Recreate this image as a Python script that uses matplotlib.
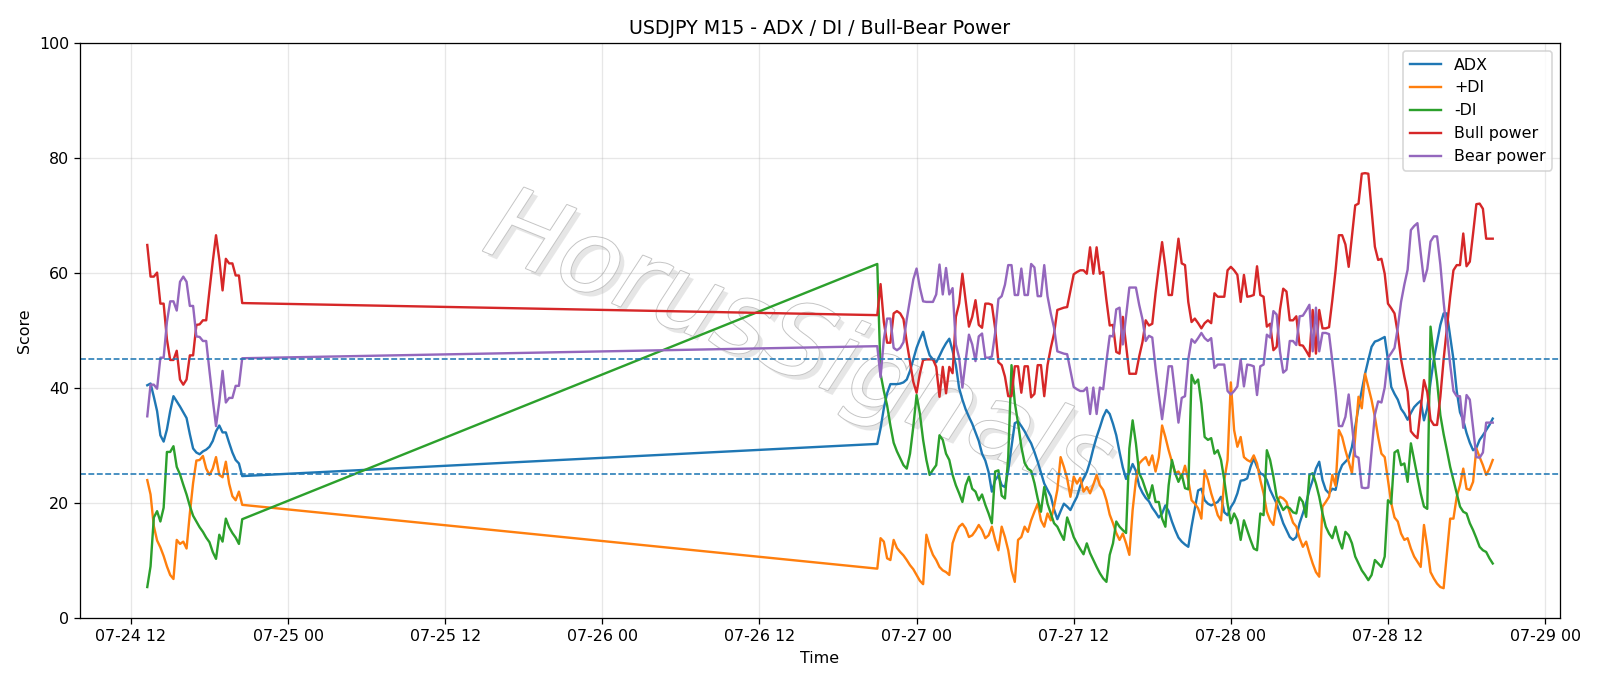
import matplotlib
matplotlib.use("Agg")
import matplotlib.pyplot as plt
import matplotlib.dates as mdates
import matplotlib.patheffects as pe
import numpy as np
import pandas as pd

# session 1: Fri 07-24 13:15 .. 20:30 (M15)
adx1 = [40.5, 40.8, 38.5, 36.0, 31.8, 30.7, 32.8, 36.0, 38.6, 37.7, 36.8, 35.8, 34.8, 32.0, 29.5,
        28.8, 28.5, 29.0, 29.3, 29.8, 30.8, 32.5, 33.5, 32.3, 32.3, 30.5, 28.8, 27.5, 26.9, 24.7]
pdi1 = [24.0, 21.5, 16.0, 13.5, 12.3, 10.8, 9.0, 7.5, 6.8, 13.6, 12.9, 13.3, 12.1, 18.2, 23.5,
        27.4, 27.5, 28.2, 26.0, 24.9, 26.0, 28.0, 24.9, 24.5, 27.2, 23.4, 21.2, 20.5, 22.0, 19.7]
mdi1 = [5.4, 9.0, 17.5, 18.6, 16.8, 19.2, 28.9, 28.9, 29.9, 26.3, 25.0, 23.2, 21.5, 19.5, 17.8,
        16.8, 15.8, 15.0, 14.0, 13.2, 11.5, 10.3, 14.5, 13.3, 17.3, 15.8, 14.8, 14.0, 12.9, 17.2]
bull1 = [64.9, 59.4, 59.4, 60.1, 54.7, 54.7, 48.5, 44.9, 44.9, 46.5, 41.5, 40.6, 41.5, 45.7, 45.7,
         51.0, 51.1, 51.8, 51.8, 57.0, 62.0, 66.6, 62.4, 57.0, 62.5, 61.7, 61.7, 59.6, 59.6, 54.8]
bear1 = [35.1, 40.6, 40.6, 39.9, 45.3, 45.3, 51.5, 55.1, 55.1, 53.5, 58.5, 59.4, 58.5, 54.3, 54.3,
         49.0, 48.9, 48.2, 48.2, 43.0, 38.0, 33.4, 37.6, 43.0, 37.5, 38.3, 38.3, 40.4, 40.4, 45.2]

# session 2: Sun 07-26 21:00 .. Tue 07-28 20:00 (M15)
adx2 = [30.3, 33.0, 36.5, 39.1, 40.7, 40.7, 40.7, 40.8, 41.0, 41.5, 43.0, 45.0, 47.0, 48.5, 49.8, 47.5,
        45.7, 45.0, 44.5, 45.6, 46.8, 47.8, 48.6, 46.5, 44.0, 40.0, 38.0, 36.3, 35.0, 33.8, 32.3, 30.8,
        28.6, 27.4, 25.4, 22.0, 24.0, 24.8, 23.1, 22.8, 25.7, 29.8, 33.9, 34.2, 33.4, 32.5, 31.4, 30.4,
        28.9, 27.2, 25.3, 23.4, 22.3, 21.2, 18.9, 17.2, 18.6, 19.9, 19.4, 18.8, 20.0, 21.1, 23.0, 24.3,
        25.4, 27.2, 29.5, 31.5, 33.2, 35.0, 36.2, 35.5, 33.8, 31.8, 28.9, 26.2, 24.2, 25.3, 26.8, 25.6,
        23.0, 21.8, 20.9, 20.3, 19.2, 18.4, 17.5, 18.2, 19.6, 18.6, 16.8, 15.3, 14.0, 13.3, 12.8, 12.4,
        15.9, 19.1, 22.2, 22.5, 20.5, 19.9, 19.6, 19.9, 20.2, 21.1, 18.4, 17.9, 19.3, 20.2, 21.7, 23.9,
        24.0, 24.3, 26.3, 27.8, 26.3, 25.2, 24.9, 24.0, 22.3, 21.1, 19.9, 18.2, 16.5, 15.3, 14.1, 13.6,
        14.1, 16.5, 18.2, 20.0, 22.3, 24.0, 26.0, 27.2, 24.0, 22.3, 21.7, 22.5, 22.3, 25.2, 26.6, 27.2,
        27.8, 29.8, 33.3, 36.7, 39.6, 42.5, 44.9, 47.2, 48.1, 48.3, 48.6, 48.9, 44.9, 40.2, 39.0, 38.0,
        36.4, 35.6, 34.5, 35.7, 36.7, 37.3, 37.8, 34.4, 36.5, 41.0, 45.0, 48.0, 51.0, 53.0, 53.0, 49.0,
        45.0, 39.5, 35.8, 34.4, 32.2, 30.5, 29.2, 29.6, 31.0, 31.8, 32.7, 33.6, 34.7]
pdi2 = [8.6, 13.9, 13.3, 10.4, 10.1, 13.6, 12.2, 11.5, 10.9, 10.1, 9.2, 8.5, 7.5, 6.5, 5.9, 14.5,
        12.5, 11.0, 10.1, 8.9, 8.3, 8.0, 7.5, 13.0, 14.7, 15.9, 16.4, 15.6, 14.1, 14.4, 15.2, 16.2,
        15.3, 13.9, 14.4, 15.9, 13.6, 11.8, 15.9, 14.1, 11.8, 8.3, 6.3, 13.6, 14.1, 15.9, 15.0, 17.0,
        18.5, 19.9, 17.0, 15.9, 18.2, 17.0, 19.4, 22.3, 28.0, 26.3, 24.3, 21.1, 24.6, 23.4, 24.4, 22.0,
        22.8, 21.7, 23.2, 24.9, 23.1, 22.3, 20.5, 18.0, 16.5, 14.8, 13.6, 14.7, 13.0, 11.0, 18.8, 24.0,
        26.9, 27.5, 28.0, 26.6, 28.3, 25.5, 28.0, 33.5, 31.5, 29.2, 27.2, 25.2, 25.5, 24.5, 26.5, 24.0,
        20.5, 19.9, 19.1, 17.3, 25.7, 24.0, 21.7, 19.9, 17.9, 17.0, 24.0, 27.5, 41.0, 32.7, 29.8, 31.5,
        28.0, 27.5, 27.2, 28.3, 26.9, 24.0, 21.7, 18.5, 17.0, 16.2, 20.2, 21.1, 20.8, 20.2, 18.3, 16.6,
        15.9, 13.9, 12.4, 13.3, 11.3, 9.5, 8.0, 7.2, 19.4, 20.2, 21.1, 24.9, 23.0, 32.7, 31.5, 29.2,
        27.2, 25.2, 31.5, 38.5, 36.5, 42.5, 40.2, 37.9, 35.0, 31.5, 28.6, 28.0, 24.0, 20.0, 17.5, 16.8,
        14.7, 13.6, 13.9, 12.1, 10.7, 9.8, 8.9, 16.2, 12.4, 8.0, 6.9, 6.0, 5.4, 5.2, 11.3, 17.3,
        17.3, 21.1, 23.1, 26.0, 22.5, 22.3, 23.7, 29.5, 28.0, 26.6, 24.9, 26.0, 27.5]
mdi2 = [61.6, 42.5, 39.5, 37.0, 33.5, 30.5, 29.0, 27.8, 26.6, 26.0, 28.6, 33.3, 38.8, 35.6, 31.0, 27.5,
        24.9, 25.8, 26.6, 31.8, 31.0, 28.6, 27.5, 24.9, 23.1, 21.7, 20.2, 23.1, 24.6, 22.5, 22.0, 20.5,
        21.5, 19.7, 18.2, 16.5, 25.5, 25.7, 21.3, 20.8, 28.0, 44.0, 37.5, 33.9, 29.8, 27.0, 26.0, 25.6,
        23.5, 20.8, 18.5, 22.8, 19.9, 18.2, 16.5, 15.9, 14.7, 13.6, 17.5, 15.9, 14.1, 13.0, 12.0, 11.1,
        13.0, 11.3, 10.1, 8.9, 7.8, 6.9, 6.3, 11.0, 13.0, 16.8, 15.9, 15.3, 14.8, 29.5, 34.4, 30.4,
        25.2, 24.0, 22.3, 20.8, 23.1, 20.2, 20.2, 17.3, 15.9, 23.1, 27.5, 25.2, 23.7, 25.0, 22.6, 22.4,
        42.3, 40.8, 41.5, 37.3, 31.5, 31.0, 31.3, 28.6, 29.2, 27.5, 24.0, 19.9, 16.5, 18.2, 17.0, 13.6,
        17.0, 15.3, 13.6, 12.1, 11.8, 18.2, 17.9, 29.2, 27.5, 24.6, 21.1, 19.9, 18.8, 19.4, 19.1, 18.4,
        18.2, 21.0, 20.2, 17.6, 24.9, 25.2, 23.4, 21.1, 18.2, 15.9, 14.7, 13.9, 15.9, 13.6, 12.1, 15.0,
        14.4, 13.0, 10.7, 9.5, 8.3, 7.5, 6.6, 7.5, 10.1, 9.5, 8.9, 10.7, 20.5, 19.9, 28.8, 29.2,
        26.6, 26.9, 23.7, 30.4, 27.5, 24.6, 21.7, 19.4, 19.0, 50.7, 45.5, 41.2, 35.3, 32.0, 29.2, 26.3,
        24.0, 21.7, 19.4, 18.5, 18.2, 16.5, 15.3, 13.9, 12.4, 11.8, 11.5, 10.4, 9.5]
bull2 = [52.7, 58.1, 51.5, 47.9, 47.9, 53.0, 53.4, 53.0, 52.0, 48.0, 44.5, 41.1, 39.2, 42.5, 44.9, 45.0,
         45.0, 45.0, 43.7, 38.5, 43.7, 39.1, 43.7, 42.6, 52.4, 54.7, 59.9, 55.2, 50.7, 52.4, 55.3, 51.0,
         50.5, 54.7, 54.7, 54.5, 50.4, 44.5, 44.0, 42.0, 38.6, 38.6, 43.8, 43.8, 39.2, 43.8, 43.8, 38.4,
         39.0, 44.0, 44.0, 38.6, 44.0, 47.0, 49.5, 53.6, 53.8, 54.0, 54.1, 57.0, 59.8, 60.2, 60.5, 60.5,
         59.9, 64.5, 59.9, 64.5, 59.9, 60.2, 55.3, 50.9, 51.0, 46.3, 46.0, 52.4, 47.5, 42.5, 42.5, 42.5,
         45.5, 48.0, 51.8, 50.9, 51.2, 56.5, 61.1, 65.4, 61.1, 56.2, 56.2, 61.1, 66.0, 61.7, 61.4, 55.0,
         51.5, 52.1, 51.3, 50.4, 51.3, 51.8, 51.3, 56.5, 55.9, 55.9, 55.9, 60.5, 61.1, 60.5, 59.7, 55.0,
         59.7, 55.9, 56.0, 56.2, 61.2, 56.2, 55.9, 50.7, 51.2, 46.6, 47.2, 53.6, 57.3, 56.8, 51.8, 51.8,
         52.5, 47.5, 47.4, 46.5, 45.5, 53.6, 46.0, 53.6, 50.4, 50.4, 50.6, 55.3, 60.5, 66.6, 66.6, 65.0,
         61.1, 66.5, 71.8, 72.1, 77.3, 77.4, 77.3, 71.0, 64.6, 62.3, 62.5, 59.9, 54.7, 53.9, 53.0, 49.5,
         45.0, 42.0, 39.4, 32.5, 31.8, 31.3, 36.5, 41.4, 39.3, 34.5, 33.6, 33.6, 38.5, 45.0, 50.5, 55.9,
         60.5, 61.4, 61.4, 66.9, 61.2, 62.0, 66.9, 72.0, 72.1, 71.2, 66.0, 66.0, 66.0]
bear2 = [47.3, 41.9, 48.5, 52.1, 52.1, 47.0, 46.6, 47.0, 48.0, 52.0, 55.5, 58.9, 60.8, 57.5, 55.1, 55.0,
         55.0, 55.0, 56.3, 61.5, 56.3, 60.9, 56.3, 57.4, 47.6, 45.3, 40.1, 44.8, 49.3, 47.6, 44.7, 49.0,
         49.5, 45.3, 45.3, 45.5, 49.6, 55.5, 56.0, 58.0, 61.4, 61.4, 56.2, 56.2, 60.8, 56.2, 56.2, 61.6,
         61.0, 56.0, 56.0, 61.4, 56.0, 53.0, 50.5, 46.4, 46.2, 46.0, 45.9, 43.0, 40.2, 39.8, 39.5, 39.5,
         40.1, 35.5, 40.1, 35.5, 40.1, 39.8, 44.7, 49.1, 49.0, 53.7, 54.0, 47.6, 52.5, 57.5, 57.5, 57.5,
         54.5, 52.0, 48.2, 49.1, 48.8, 43.5, 38.9, 34.6, 38.9, 43.8, 43.8, 38.9, 34.0, 38.3, 38.6, 45.0,
         48.5, 47.9, 48.7, 49.6, 48.7, 48.2, 48.7, 43.5, 44.1, 44.1, 44.1, 39.5, 38.9, 39.5, 40.3, 45.0,
         40.3, 44.1, 44.0, 43.8, 38.8, 43.8, 44.1, 49.3, 48.8, 53.4, 52.8, 46.4, 42.7, 43.2, 48.2, 48.2,
         47.5, 52.5, 52.6, 53.5, 54.5, 46.4, 54.0, 46.4, 49.6, 49.6, 49.4, 44.7, 39.5, 33.4, 33.4, 35.0,
         38.9, 33.5, 28.2, 27.9, 22.7, 22.6, 22.7, 29.0, 35.4, 37.7, 37.5, 40.1, 45.3, 46.1, 47.0, 50.5,
         55.0, 58.0, 60.6, 67.5, 68.2, 68.7, 63.5, 58.6, 60.7, 65.5, 66.4, 66.4, 61.5, 55.0, 49.5, 44.1,
         39.5, 38.6, 38.6, 33.1, 38.8, 38.0, 33.1, 28.0, 27.9, 28.8, 34.0, 34.0, 34.0]

t1 = pd.date_range("2026-07-24 13:15", periods=len(adx1), freq="15min")
t2 = pd.date_range("2026-07-26 21:00", periods=len(adx2), freq="15min")
df = pd.DataFrame({
    "ADX": adx1 + adx2,
    "+DI": pdi1 + pdi2,
    "-DI": mdi1 + mdi2,
    "Bull power": bull1 + bull2,
    "Bear power": bear1 + bear2,
}, index=t1.append(t2))

fig, ax = plt.subplots(figsize=(14, 6.0025), dpi=800 / 7)
fig.subplots_adjust(left=0.05, right=0.975, top=0.937, bottom=0.099)

# watermark
ax.text(0.485, 0.47, "HorusSignals", transform=ax.transAxes, fontsize=64, style="italic",
        fontweight="light", rotation=-22, ha="center", va="center", color="white", zorder=0,
        path_effects=[pe.withSimplePatchShadow(offset=(3, -3), shadow_rgbFace="#cfcfcf", alpha=0.5),
                      pe.Stroke(linewidth=1.2, foreground="#c4c4c4"), pe.Normal()])

for col in df.columns:
    ax.plot(df.index, df[col], label=col, linewidth=1.5)

ax.axhline(45, linestyle="--", linewidth=1, color="C0")
ax.axhline(25, linestyle="--", linewidth=1, color="C0")

ax.set_ylim(0, 100)
ax.set_title("USDJPY M15 - ADX / DI / Bull-Bear Power")
ax.set_xlabel("Time")
ax.set_ylabel("Score")
ax.xaxis.set_major_locator(mdates.HourLocator(byhour=[0, 12]))
ax.xaxis.set_major_formatter(mdates.DateFormatter("%m-%d %H"))
ax.grid(True, alpha=0.3)
ax.legend(loc="upper right")

fig.savefig("out.png")
